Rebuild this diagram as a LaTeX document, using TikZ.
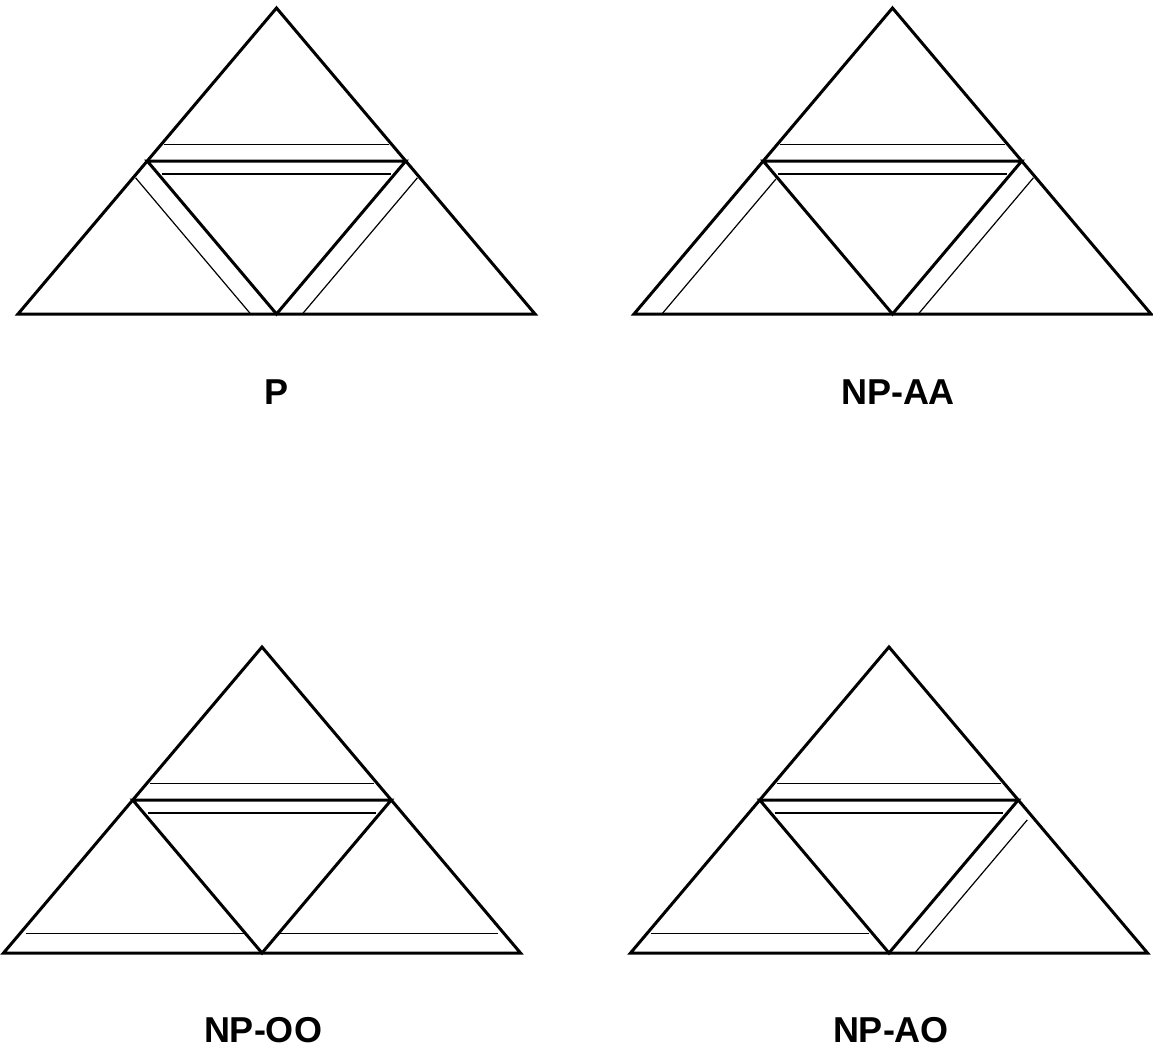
\documentclass[tikz,border=0pt]{standalone}
\usepackage{fontspec}
\setmainfont{Liberation Sans}
\usetikzlibrary{calc}
\tikzset{
  outline/.style={line width=1.5pt, line join=miter},
  thinl/.style={line width=0.6pt},
  lbl/.style={font=\fontsize{18}{21}\selectfont\bfseries, inner sep=0pt},
  sier/.pic={
    \coordinate (-A) at (0,-306);
    \coordinate (-L) at (-258.5,0);
    \coordinate (-R) at (258.5,0);
    \coordinate (-ML) at (-129.25,-153);
    \coordinate (-MR) at (129.25,-153);
    \coordinate (-MB) at (0,0);
    \draw[outline] (-A) -- (-R) -- (-L) -- cycle;
    \draw[outline] (-ML) -- (-MR) -- (-MB) -- cycle;
  }
}
\begin{document}
\begin{tikzpicture}[x=0.5pt,y=-0.5pt]
\useasboundingbox (0,0) rectangle (1153,1049);

\pic (p) at (276.5,314) {sier};
\pic (aa) at (892.5,314) {sier};
\pic (oo) at (262,953) {sier};
\pic (ao) at (889,953) {sier};

% lines common to all: top and middle
\foreach \t in {p,aa,oo,ao}{
  \draw[thinl, shorten <=1.5pt, shorten >=1.5pt] ($(\t-ML)!0.11!(\t-A)$) -- ($(\t-MR)!0.11!(\t-A)$);
  \draw[thinl, shorten <=2pt, shorten >=2pt] ($(\t-ML)!0.085!(\t-MB)$) -- ($(\t-MR)!0.085!(\t-MB)$);
}

% P
\draw[thinl, shorten <=1pt] ($(p-ML)!0.10!(p-L)$) -- ($(p-MB)!0.10!(p-L)$);
\draw[thinl, shorten <=1pt] ($(p-MR)!0.10!(p-R)$) -- ($(p-MB)!0.10!(p-R)$);

% NP-AA
\draw[thinl, shorten <=1pt] ($(aa-ML)!0.108!(aa-MB)$) -- ($(aa-L)!0.108!(aa-MB)$);
\draw[thinl, shorten <=1pt] ($(aa-MR)!0.10!(aa-R)$) -- ($(aa-MB)!0.10!(aa-R)$);

% NP-OO
\draw[thinl, shorten <=3pt] ($(oo-L)!0.125!(oo-ML)$) -- ($(oo-MB)!0.125!(oo-ML)$);
\draw[thinl, shorten >=3pt] ($(oo-MB)!0.125!(oo-MR)$) -- ($(oo-R)!0.125!(oo-MR)$);

% NP-AO
\draw[thinl, shorten <=2pt, shorten >=2pt] ($(ao-L)!0.125!(ao-ML)$) -- ($(ao-MB)!0.125!(ao-ML)$);
\draw[thinl, shorten <=3pt] ($(ao-MR)!0.10!(ao-R)$) -- ($(ao-MB)!0.10!(ao-R)$);

% labels
\node[lbl] (lp) at (277,392) {P};
\node[lbl] (laa) at (898,392) {NP-AA};
\node[lbl] (loo) at (263,1030) {NP-OO};
\node[lbl] (lao) at (891,1030) {NP-AO};
\end{tikzpicture}
\end{document}
